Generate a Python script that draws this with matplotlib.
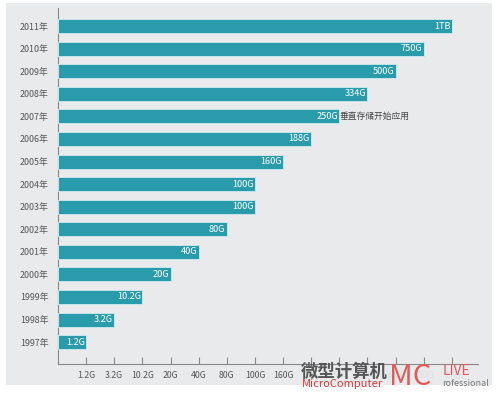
import matplotlib
matplotlib.use("Agg")
import matplotlib.pyplot as plt
from matplotlib.patches import Rectangle

plt.rcParams['font.family'] = ['Noto Sans CJK SC', 'DejaVu Sans']

years = ["1997年", "1998年", "1999年", "2000年", "2001年", "2002年", "2003年",
         "2004年", "2005年", "2006年", "2007年", "2008年", "2009年", "2010年", "2011年"]
capacity_labels = ["1.2G", "3.2G", "10.2G", "20G", "40G", "80G", "100G",
                   "100G", "160G", "188G", "250G", "334G", "500G", "750G", "1TB"]
# ordinal step (bar length)
bar_steps = [1, 2, 3, 4, 5, 6, 7, 7, 8, 9, 10, 11, 12, 13, 14]
tick_labels = ["1.2G", "3.2G", "10.2G", "20G", "40G", "80G", "100G",
               "160G", "188G", "250G", "334G", "500G", "750G", "1TB"]
annotation_year = "2007年"
annotation_text = "垂直存储开始应用"

fig = plt.figure(figsize=(5.0, 3.93), dpi=100)
fig.patch.set_facecolor('white')

bg = fig.add_axes([6/500, (393-385)/393, (492-6)/500, (385-3)/393], zorder=-5)
bg.set_facecolor('#e9eaec')
bg.set_xticks([]); bg.set_yticks([])
for s in bg.spines.values():
    s.set_visible(False)

ax = fig.add_axes([58/500, 29/393, (478-58)/500, (364-8)/393], zorder=1)
ax.set_facecolor('none')

ypos = list(range(len(years)))
ax.barh(ypos, bar_steps, height=0.62, color='#2a9bab',
        edgecolor='#c5e6ec', linewidth=0.7, zorder=3)

for y, v, lab in zip(ypos, bar_steps, capacity_labels):
    ax.text(v - 0.05, y, lab, ha='right', va='center', color='white',
            fontsize=6.6, zorder=4)

ai = years.index(annotation_year)
ax.text(bar_steps[ai] + 0.02, ai, annotation_text, ha='left', va='center',
        color='#444444', fontsize=6.3, zorder=4)

ax.set_xlim(0, 14.93)
ax.set_ylim(-0.97, len(years) - 1 + 0.8)
ax.set_yticks(ypos)
ax.set_yticklabels(years, fontsize=6.4, color='#555555')
ax.set_xticks(range(1, len(tick_labels) + 1))
ax.set_xticklabels(tick_labels, fontsize=6.3, color='#555555')
ax.tick_params(axis='y', length=0, pad=7)
ax.tick_params(axis='x', direction='in', length=5, color='#888888', pad=5)

for s in ['top', 'right']:
    ax.spines[s].set_visible(False)
ax.spines['left'].set_color('#888888')
ax.spines['bottom'].set_color('#888888')
ax.spines['left'].set_linewidth(0.8)
ax.spines['bottom'].set_linewidth(0.8)

# watermark (covers the right-hand tick labels, as in the source image)
wm = fig.add_axes([300/500, 0/393, 195/500, 33/393], zorder=10)
wm.set_facecolor('none')
wm.set_xticks([]); wm.set_yticks([])
for s in wm.spines.values():
    s.set_visible(False)
wm.set_xlim(0, 195); wm.set_ylim(0, 33)
wm.add_patch(Rectangle((0, 8), 192, 19, facecolor='#e9eaec', edgecolor='none',
                       alpha=0.93))
wm.text(1, 21, "微型计算机", fontsize=12.5, fontweight='bold',
        color='#555555', va='center', ha='left')
wm.text(2, 9, "MicroComputer", fontsize=8, style='italic',
        color='#d9383a', va='center', ha='left')
wm.text(89, 16, "MC", fontsize=21, color='#e05a5a',
        va='center', ha='left')
wm.text(143, 22, "LIVE", fontsize=10, color='#e05a5a',
        va='center', ha='left')
wm.text(142, 10, "rofessional", fontsize=6.5, color='#777777',
        va='center', ha='left')

fig.savefig("out.png", dpi=100, facecolor=fig.get_facecolor())
